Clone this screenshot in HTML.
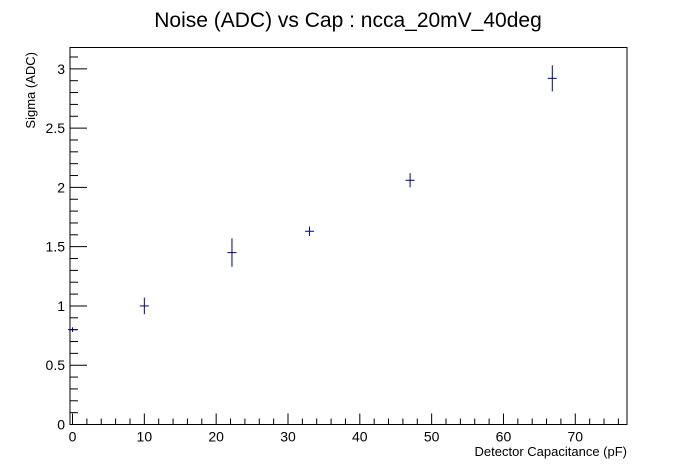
<!DOCTYPE html>
<html><head><meta charset="utf-8"><style>
html,body{margin:0;padding:0;background:#fff;}
svg{display:block;font-family:"Liberation Sans",Arial,sans-serif;}
</style></head><body>
<svg id="chart" width="696" height="472" viewBox="0 0 696 472" xmlns="http://www.w3.org/2000/svg">
<rect width="696" height="472" fill="#fff"/>
<text x="348" y="27" font-size="21" text-anchor="middle">Noise (ADC) vs Cap : ncca_20mV_40deg</text>
<rect x="70" y="47.5" width="557" height="377" fill="none" stroke="#000" stroke-width="1"/>
<g id="axes"></g>
<g id="marks"></g>
<text x="627" y="456" font-size="13" text-anchor="end">Detector Capacitance (pF)</text>
<text transform="translate(35,52) rotate(-90)" font-size="13" text-anchor="end">Sigma (ADC)</text>
</svg>
<script>
const xValues = [0, 10, 22.2, 33, 47, 66.8];
const yValues = [0.8, 1.0, 1.45, 1.63, 2.06, 2.92];
const yErrors = [0.02, 0.07, 0.12, 0.04, 0.06, 0.11];
const xTickLabels = ["0","10","20","30","40","50","60","70"];
const yTickLabels = ["0","0.5","1","1.5","2","2.5","3"];

const X0=70,X1=627,Y0=424.5,Y1=47.5;
const xmin=-0.35,xmax=77.2,ymin=0,ymax=3.18;
const sx=v=>X0+(v-xmin)/(xmax-xmin)*(X1-X0);
const sy=v=>Y0-(v-ymin)/(ymax-ymin)*(Y0-Y1);
const NS="http://www.w3.org/2000/svg";
const axes=document.getElementById('axes'), marks=document.getElementById('marks');
function ln(p,x1,y1,x2,y2,c){const l=document.createElementNS(NS,'line');l.setAttribute('x1',x1);l.setAttribute('y1',y1);l.setAttribute('x2',x2);l.setAttribute('y2',y2);l.setAttribute('stroke',c||'#000');l.setAttribute('stroke-width',1);p.appendChild(l);return l;}
function tx(p,x,y,s,a){const t=document.createElementNS(NS,'text');t.setAttribute('x',x);t.setAttribute('y',y);t.setAttribute('font-size',14);t.setAttribute('text-anchor',a);t.textContent=s;p.appendChild(t);return t;}
// x ticks
for(let v=0;v<=xmax;v+=2){const x=sx(v);const major=Math.abs(v%10)<1e-9;
 const l=ln(axes,x,Y0,x,Y0-(major?11:6));
 
 }
xTickLabels.forEach(s=>{const t=tx(axes,sx(+s),Y0+17,s,'middle');
 
 });
// y ticks
for(let i=0;i<=31;i++){const v=i*0.1;if(v>ymax)break;const y=sy(v);const major=i%5===0;
 const l=ln(axes,X0,y,X0+(major?17:8),y);
 
 }
yTickLabels.forEach(s=>{const t=tx(axes,X0-5,sy(+s)+5,s,'end');
 
 });
// points
xValues.forEach((xv,i)=>{const x=sx(xv),y=sy(yValues[i]),e=yErrors[i];
 const g=document.createElementNS(NS,'g');
 
 
 ln(g,x-4.5,y,x+4.5,y,'#00008b');
 ln(g,x,sy(yValues[i]+e),x,sy(yValues[i]-e),'#00008b');
 marks.appendChild(g);});
</script>
</body></html>
